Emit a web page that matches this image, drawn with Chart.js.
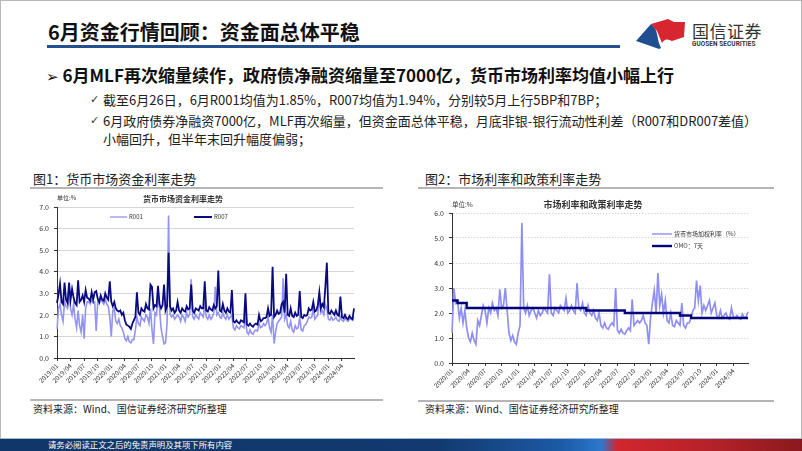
<!DOCTYPE html>
<html>
<head>
<meta charset="utf-8">
<script src="https://cdn.jsdelivr.net/npm/chart.js@4.4.1/dist/chart.umd.min.js"></script>
<style>
  html, body { margin: 0; padding: 0; }
  body {
    width: 802px; height: 451px; position: relative; overflow: hidden; background: #fff;
    font-family: "Noto Sans CJK SC", "Noto Sans", sans-serif; color: #222;
  }
  .abs { position: absolute; white-space: nowrap; line-height: 1; }
  .frame { position: absolute; left: 0; top: 0; width: 800px; height: 449px; border: 1px solid #b8b8b8; }
  .title { left: 48px; top: 22px; font-size: 20px; font-weight: bold; color: #111; }
  .titleLine { position: absolute; left: 47px; top: 45px; width: 573px; height: 3px; background: #25508f; }
  .brand { left: 692px; top: 22px; font-size: 17px; color: #333; letter-spacing: 0.5px; }
  .brandEn { left: 692px; top: 41px; font-family: Roboto, sans-serif; font-weight: bold; font-size: 6.4px; color: #333; letter-spacing: 0.1px; }
  .lead { left: 46px; top: 66px; font-size: 17px; font-weight: bold; color: #111; }
  .lead .arrow { font-family: "DejaVu Sans", sans-serif; font-size: 15px; margin-right: 4px; font-weight: normal; }
  .check { position: absolute; left: 90px; font-family: "DejaVu Sans", sans-serif; font-size: 11px; color: #333; }
  .sub { left: 103px; font-size: 13px; color: #222; line-height: 18px; }
  .figTitle { font-size: 13px; color: #222; }
  .rule { position: absolute; height: 2px; background: #b5b5b5; }
  .src { font-size: 10px; color: #222; }
  .chartBox { position: absolute; }
  .footer {
    position: absolute; left: 0; top: 438px; width: 802px; height: 13px;
    background: linear-gradient(90deg, #113669 0%, #123a70 55%, #1c5aa6 70%, #2b78cc 75%, #d3262e 77%, #b72229 88%, #8a191d 100%);
    border-top: 1px solid #9fb8d6;
  }
  .footText { left: 48px; top: 440px; font-size: 8.4px; color: #fff; }
</style>
</head>
<body>
<div class="frame"></div>

<div class="abs title">6月资金行情回顾：资金面总体平稳</div>
<div class="titleLine"></div>

<svg class="abs" style="left:630px;top:12px" width="60" height="42" viewBox="0 0 60 42">
  <path d="M6 29 L21 12 Q26 16 27 22 Q28 30 31 36 L29 37 Q18 33 6 29 Z" fill="#1f4f8f"/>
  <path d="M21 12 L38 7 L44 10 L55 10 L54 25 L42 29 Q35 25 32 31 Q29 24 27 19 Z" fill="#d7262f"/>
</svg>
<div class="abs brand">国信证券</div>
<div class="abs brandEn">GUOSEN SECURITIES</div>

<div class="abs lead"><span class="arrow">➢</span>6月MLF再次缩量续作，政府债净融资缩量至7000亿，货币市场利率均值小幅上行</div>
<div class="check" style="top:93px">✓</div>
<div class="abs sub" style="top:91px">截至6月26日，6月R001均值为1.85%，R007均值为1.94%，分别较5月上行5BP和7BP；</div>
<div class="check" style="top:114px">✓</div>
<div class="abs sub" style="top:112px">6月政府债券净融资7000亿，MLF再次缩量，但资金面总体平稳，月底非银-银行流动性利差（R007和DR007差值）<br>小幅回升，但半年末回升幅度偏弱；</div>

<div class="abs figTitle" style="left:33px;top:172px">图1：货币市场资金利率走势</div>
<div class="rule" style="left:30px;top:187px;width:353px"></div>
<div class="chartBox" style="left:28px;top:195px;width:332px;height:201px"><canvas id="chart1"></canvas></div>
<div class="rule" style="left:30px;top:399px;width:353px"></div>
<div class="abs src" style="left:33px;top:404px">资料来源：Wind、国信证券经济研究所整理</div>

<div class="abs figTitle" style="left:425px;top:172px">图2：市场利率和政策利率走势</div>
<div class="rule" style="left:418px;top:187px;width:356px"></div>
<div class="chartBox" style="left:420px;top:198px;width:335px;height:201px"><canvas id="chart2"></canvas></div>
<div class="rule" style="left:418px;top:400px;width:356px"></div>
<div class="abs src" style="left:425px;top:404px">资料来源：Wind、国信证券经济研究所整理</div>

<div class="footer"></div>
<div class="abs footText">请务必阅读正文之后的免责声明及其项下所有内容</div>

<script>
// ---- data: three readings per month (early / mid / late) ----
const ticks1 = ['2019/01','2019/04','2019/07','2019/10','2020/01','2020/04','2020/07','2020/10',
  '2021/01','2021/04','2021/07','2021/10','2022/01','2022/04','2022/07','2022/10',
  '2023/01','2023/04','2023/07','2023/10','2024/01','2024/04'];
const ticks2 = ticks1.slice(4);

const r007 = [
  // 2019
  2.55,2.95,3.45, 2.60,2.50,3.50, 2.70,2.55,3.50, 2.70,3.20,2.80, 2.55,2.45,3.60, 2.60,2.70,2.90,
  2.60,3.15,2.80, 2.75,2.65,3.05, 2.70,3.05,3.10, 2.75,2.60,2.90, 2.70,2.65,3.00, 2.80,2.70,3.55,
  // 2020
  2.60,2.40,2.60, 2.30,2.20,2.15, 2.20,2.00,2.10, 1.75,1.55,1.50, 1.45,1.35,1.60, 1.75,1.90,3.05,
  2.10,2.00,2.30, 2.20,2.15,2.50, 2.30,2.25,3.40, 3.30,2.30,2.45, 2.40,3.35,2.50, 2.30,2.45,3.40,
  // 2021
  2.20,2.40,4.88, 2.40,2.20,2.30, 2.10,2.20,2.60, 2.20,2.10,2.30, 2.20,2.15,2.40, 2.25,2.30,3.40,
  2.20,2.10,2.30, 2.25,2.20,2.40, 2.30,2.30,3.55, 2.20,2.15,2.35, 2.25,2.20,2.45, 2.30,2.40,4.05,
  // 2022
  2.20,2.15,2.50, 2.20,2.10,2.30, 2.15,2.10,3.15, 1.70,1.65,1.75, 1.65,1.60,1.75, 1.70,1.65,3.00,
  1.55,1.50,1.60, 1.50,1.45,1.55, 1.60,1.55,2.00, 1.70,1.75,1.85, 1.85,1.90,2.30, 1.95,2.00,4.23,
  // 2023
  1.90,2.00,2.20, 2.05,2.10,2.50, 2.60,2.10,3.90, 2.00,1.95,2.30, 1.95,1.90,2.10, 1.95,2.00,3.10,
  1.90,1.85,2.00, 1.95,2.00,2.30, 2.20,2.25,2.60, 2.15,2.20,2.45, 3.05,2.30,2.50, 2.35,3.30,4.42,
  // 2024
  2.10,2.05,2.20, 2.10,2.00,2.20, 2.00,1.95,2.85, 1.90,1.85,2.00, 1.85,1.80,1.95, 1.85,1.80,2.30
];

const r001 = [
  // 2019
  1.35,2.30,2.50, 2.00,1.70,2.60, 2.40,2.30,2.90, 2.30,2.00,2.50, 1.80,1.40,2.20, 1.50,1.20,2.00,
  0.90,2.30,2.60, 2.60,2.50,2.70, 2.55,2.60,1.25, 2.60,2.50,2.70, 2.60,2.50,2.75, 2.50,2.40,1.90,
  // 2020
  1.00,2.20,2.30, 1.70,1.60,1.80, 1.50,1.40,1.20, 0.90,0.80,1.00, 0.75,0.70,0.85, 0.85,1.30,1.90,
  1.60,1.50,1.90, 1.80,1.70,2.00, 1.90,1.60,2.30, 1.30,0.65,2.10, 2.00,2.90,2.30, 1.40,1.00,0.65,
  // 2021
  0.70,1.60,6.60, 2.00,1.90,2.00, 1.80,1.90,2.00, 1.90,1.70,2.00, 1.90,1.70,2.10, 1.90,2.00,3.65,
  1.90,1.80,2.00, 1.90,1.80,2.10, 2.00,1.90,2.50, 1.90,1.80,2.00, 1.80,1.90,2.10, 3.30,2.00,2.10,
  // 2022
  1.90,1.85,2.10, 1.90,1.80,2.00, 1.80,1.90,2.00, 1.40,1.30,1.50, 1.40,1.35,1.50, 1.45,1.40,1.90,
  1.20,1.10,1.30, 1.15,1.10,1.25, 1.30,1.25,1.60, 1.40,1.45,1.60, 1.50,1.60,1.90, 1.40,1.20,2.00,
  // 2023
  0.67,1.20,1.60, 1.70,1.80,1.90, 3.70,1.80,2.00, 1.50,1.40,1.70, 1.30,1.20,1.50, 1.35,1.40,1.90,
  1.30,1.25,1.50, 1.55,1.70,1.90, 1.85,1.90,2.30, 1.80,1.90,2.00, 2.90,2.10,2.20, 2.00,2.50,2.30,
  // 2024
  1.80,1.75,1.90, 1.75,1.80,1.90, 1.75,1.70,1.90, 1.75,1.70,1.85, 1.75,1.70,1.80, 1.80,1.75,1.90
];

const mmRate = [
  // 2020
  1.20,3.00,2.40, 2.50,1.80,2.20, 1.60,2.10,1.40, 1.00,0.85,1.20, 0.90,0.75,1.70, 1.50,1.90,2.30,
  2.10,1.60,2.20, 2.00,2.40,2.10, 2.20,1.90,2.95, 2.20,2.30,3.00, 2.10,1.20,0.90, 1.10,0.85,0.75,
  // 2021
  1.20,1.50,5.60, 2.20,2.00,2.30, 1.90,2.10,2.20, 2.00,1.80,2.10, 1.90,2.00,2.20, 2.10,2.00,3.55,
  2.00,1.90,2.20, 2.10,2.00,2.30, 2.20,2.10,2.60, 2.00,2.10,2.30, 2.10,2.00,3.20, 2.20,2.10,2.40,
  // 2022
  2.00,1.90,2.30, 2.00,1.90,2.10, 1.80,1.70,2.00, 1.50,1.40,1.60, 1.40,1.35,1.50, 1.60,1.50,3.00,
  1.30,1.20,1.35, 1.20,1.15,1.30, 1.40,1.30,2.55, 1.50,1.60,1.70, 1.60,1.70,1.90, 1.60,1.50,0.75,
  // 2023
  1.80,2.40,2.90, 2.00,3.60,2.30, 2.75,2.00,2.50, 1.70,1.60,2.00, 1.50,1.45,1.70, 1.60,1.50,2.40,
  1.50,1.40,1.60, 1.60,1.80,2.10, 2.20,3.30,2.50, 3.10,2.00,2.30, 2.10,2.30,2.50, 2.00,2.20,2.40,
  // 2024
  1.90,1.80,2.10, 1.80,1.90,2.00, 1.80,1.75,2.20, 1.85,1.80,1.90, 1.80,1.75,1.95, 1.80,1.85,2.05
];

const omo7d = [
  // 2020
  2.50,2.50,2.50, 2.40,2.40,2.40, 2.40,2.40,2.20, 2.20,2.20,2.20, 2.20,2.20,2.20, 2.20,2.20,2.20,
  2.20,2.20,2.20, 2.20,2.20,2.20, 2.20,2.20,2.20, 2.20,2.20,2.20, 2.20,2.20,2.20, 2.20,2.20,2.20,
  // 2021
  2.20,2.20,2.20, 2.20,2.20,2.20, 2.20,2.20,2.20, 2.20,2.20,2.20, 2.20,2.20,2.20, 2.20,2.20,2.20,
  2.20,2.20,2.20, 2.20,2.20,2.20, 2.20,2.20,2.20, 2.20,2.20,2.20, 2.20,2.20,2.20, 2.20,2.20,2.20,
  // 2022
  2.20,2.10,2.10, 2.10,2.10,2.10, 2.10,2.10,2.10, 2.10,2.10,2.10, 2.10,2.10,2.10, 2.10,2.10,2.10,
  2.10,2.10,2.10, 2.10,2.00,2.00, 2.00,2.00,2.00, 2.00,2.00,2.00, 2.00,2.00,2.00, 2.00,2.00,2.00,
  // 2023
  2.00,2.00,2.00, 2.00,2.00,2.00, 2.00,2.00,2.00, 2.00,2.00,2.00, 2.00,2.00,2.00, 2.00,1.90,1.90,
  1.90,1.90,1.90, 1.90,1.80,1.80, 1.80,1.80,1.80, 1.80,1.80,1.80, 1.80,1.80,1.80, 1.80,1.80,1.80,
  // 2024
  1.80,1.80,1.80, 1.80,1.80,1.80, 1.80,1.80,1.80, 1.80,1.80,1.80, 1.80,1.80,1.80, 1.80,1.80,1.80
];

// sample dates: 05 / 15 / 25 of each month
function monthSlots(y0, y1, lastMonth) {
  const out = [];
  for (let y = y0; y <= y1; y++) {
    for (let m = 1; m <= 12; m++) {
      if (y === y1 && m > lastMonth) break;
      const ym = y + '/' + String(m).padStart(2, '0');
      out.push(ym + '/05', ym + '/15', ym + '/25');
    }
  }
  return out;
}
const days1 = monthSlots(2019, 2024, 6);
const days2 = monthSlots(2020, 2024, 6);

const CJK = '"Noto Sans CJK SC", "Noto Sans", sans-serif';

function quarterLabel(day, list) {
  if (!day || !day.endsWith('/05')) return null;
  const ym = day.slice(0, 7);
  return list.includes(ym) ? ym : null;
}

// titles, unit and legend drawn inside the canvas
function notesPlugin(cfg) {
  return {
    id: 'notes',
    afterDraw(chart) {
      const { ctx, chartArea: a } = chart;
      ctx.save();
      ctx.fillStyle = '#333';
      ctx.textBaseline = 'middle';
      ctx.font = cfg.unitSize + 'px ' + CJK;
      ctx.fillText('单位:%', a.left, a.top + cfg.unitDy);
      ctx.font = 'bold ' + cfg.titleSize + 'px ' + CJK;
      ctx.textAlign = 'center';
      ctx.fillText(cfg.title, a.left + cfg.titleDx, a.top + cfg.titleDy);
      ctx.textAlign = 'left';
      ctx.font = cfg.legendSize + 'px ' + CJK;
      cfg.legend.forEach(item => {
        const ds = chart.data.datasets[item.index];
        const x = a.left + item.dx, y = a.top + item.dy;
        ctx.strokeStyle = ds.borderColor;
        ctx.lineWidth = item.width;
        ctx.beginPath();
        ctx.moveTo(x, y);
        ctx.lineTo(x + item.len, y);
        ctx.stroke();
        ctx.fillText(ds.label, x + item.len + 2, y);
      });
      ctx.restore();
    }
  };
}

function xAxis(days, list, height) {
  return {
    type: 'category',
    border: { display: true, color: '#333', width: 1 },
    grid: {
      drawOnChartArea: false, tickLength: 3,
      color: c => (c.tick && c.tick.label) ? '#333' : 'rgba(0,0,0,0)'
    },
    ticks: {
      autoSkip: false, maxRotation: 45, minRotation: 45, padding: 1,
      color: '#333', font: { size: 6.5, family: CJK },
      callback: (v, i) => quarterLabel(days[i], list)
    },
    afterFit: s => { s.height = height; }
  };
}

function yAxis(max, width, dash) {
  return {
    min: 0, max: max,
    border: { display: true, color: '#333', width: 1, dash: dash },
    grid: { color: '#d6d6d6', tickColor: '#333', tickLength: 3 },
    ticks: {
      stepSize: 1, padding: 5, color: '#333', font: { size: 7, family: CJK },
      callback: v => Number(v).toFixed(1)
    },
    afterFit: s => { s.width = width; }
  };
}

new Chart(document.getElementById('chart1'), {
  type: 'line',
  data: {
    labels: days1,
    datasets: [
      { label: 'R001', data: r001, borderColor: '#9393f2', borderWidth: 1.6, pointRadius: 0, order: 2 },
      { label: 'R007', data: r007, borderColor: '#0a0a80', borderWidth: 1.8, pointRadius: 0, order: 1 }
    ]
  },
  options: {
    responsive: true, maintainAspectRatio: false, animation: false, events: [],
    layout: { padding: { top: 12, right: 6, left: 0, bottom: 0 } },
    plugins: { legend: { display: false }, tooltip: { enabled: false } },
    scales: { x: xAxis(days1, ticks1, 38), y: yAxis(7, 29, []) }
  },
  plugins: [notesPlugin({
    title: '货币市场资金利率走势', titleSize: 8, titleDx: 126, titleDy: -8,
    unitSize: 6, unitDy: -9, legendSize: 6,
    legend: [
      { index: 0, dx: 53, dy: 10, len: 17, width: 1.3 },
      { index: 1, dx: 137, dy: 10, len: 18, width: 2 }
    ]
  })]
});

new Chart(document.getElementById('chart2'), {
  type: 'line',
  data: {
    labels: days2,
    datasets: [
      { label: '货币市场加权利率（%）', data: mmRate, borderColor: '#8f8ff3', borderWidth: 1.7, pointRadius: 0, order: 2 },
      { label: 'OMO：7天', data: omo7d, borderColor: '#05057a', borderWidth: 2.4, pointRadius: 0, stepped: true, order: 1 }
    ]
  },
  options: {
    responsive: true, maintainAspectRatio: false, animation: false, events: [],
    layout: { padding: { top: 15, right: 7, left: 0, bottom: 0 } },
    plugins: { legend: { display: false }, tooltip: { enabled: false } },
    scales: { x: xAxis(days2, ticks2, 36), y: yAxis(6, 32, [1.5, 1.5]) }
  },
  plugins: [notesPlugin({
    title: '市场利率和政策利率走势', titleSize: 9, titleDx: 141, titleDy: -8,
    unitSize: 6.5, unitDy: -8, legendSize: 6,
    legend: [
      { index: 0, dx: 200, dy: 21, len: 20, width: 1.4 },
      { index: 1, dx: 200, dy: 33, len: 20, width: 2.4 }
    ]
  })]
});
</script>
</body>
</html>
